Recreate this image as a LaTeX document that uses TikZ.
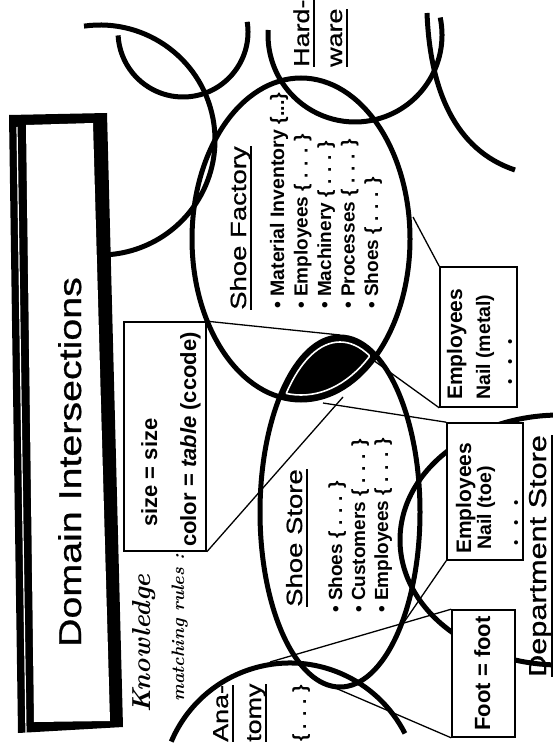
\documentclass[tikz,border=0pt]{standalone}
\usepackage{fontspec}
\newfontfamily\sansfont{Liberation Sans}
\newfontfamily\widesans[FakeStretch=1.25, FakeBold=0.8]{Liberation Sans}
\newlength{\ulwd}
\newcommand{\ulined}[1]{\settowidth{\ulwd}{#1}\rlap{\rule[-0.27em]{\ulwd}{0.075em}}#1}

\tikzset{
  ring/.style={line width=5pt},
  link/.style={line width=1.3pt},
  infobox/.style={draw, line width=1.6pt, fill=white, inner sep=0pt},
  vtext/.style={rotate=90, inner sep=0pt, anchor=base west},
  boldtext/.style={font=\sansfont\bfseries\fontsize{#1}{#1}\selectfont},
  widetext/.style={font=\widesans\fontsize{#1}{#1}\selectfont}
}

\begin{document}
\begin{tikzpicture}[x=1pt, y=-1pt]

  \useasboundingbox (0,0) rectangle (553,754);
  \clip (0,0) rectangle (553,754);

  % --- domains (circles, arcs) ---
  \draw[ring] (100,140) ++(-98:115) arc[start angle=-98, end angle=87, radius=115];
  \draw[ring] (183,32) ++(-9:65) arc[start angle=-9, end angle=177, radius=65];
  \draw[ring] (355,35) ++(-11.6:87) arc[start angle=-11.6, end angle=183.3, radius=87];
  \draw[ring] (427,13) .. controls (430,90) and (455,150) .. (515,170);
  \draw[ring] (290,792) ++(-157:129) arc[start angle=-157, end angle=-27, radius=129];
  \draw[ring] (560,540) ellipse [x radius=160, y radius=125];

  % --- intersection of shoe factory and shoe store ---
  \begin{scope}
    \clip (301,239) ellipse [x radius=109, y radius=161];
    \fill (340,512) ellipse [x radius=80, y radius=175];
  \end{scope}
  \begin{scope}
    \clip (301,239) ellipse [x radius=104, y radius=156];
    \draw[white, line width=1.6pt] (340,512) ellipse [x radius=75, y radius=170];
  \end{scope}
  \begin{scope}
    \clip (340,512) ellipse [x radius=75, y radius=170];
    \draw[white, line width=1.6pt] (301,239) ellipse [x radius=104, y radius=156];
  \end{scope}
  \draw[ring] (301,239) ellipse [x radius=109, y radius=161];
  \draw[ring] (340,512) ellipse [x radius=80, y radius=175];

  % --- title frame ---
  \fill (9,115) -- (107,113) -- (123,727) -- (18,733) -- cycle;
  \fill[white] (26,125) -- (93,123) -- (110,721) -- (34,722) -- cycle;
  \draw[white, line width=1.2pt] (17,127) -- (26,733);
  \node[vtext, anchor=base, widetext=31.5] (title) at (81,462) {Domain Intersections};

  % --- boxes ---
  \node[draw, line width=1.6pt, inner sep=0pt, minimum width=82, minimum height=229] (rules) at (165,436.5) {};
  \node[infobox, minimum width=77, minimum height=140] (metalbox) at (478.5,337) {};
  \node[infobox, minimum width=76, minimum height=137] (toebox) at (485,491.5) {};
  \node[infobox, minimum width=63, minimum height=127] (footbox) at (483.5,673.5) {};

  % --- connectors ---
  \coordinate (lensTop) at (340,335);
  \coordinate (lensLow) at (343,397);
  \coordinate (lensBase) at (323,403);
  \coordinate (lensTip) at (373,360);
  \coordinate (factoryEdge) at (413,217);
  \coordinate (storeEdge) at (400,628);
  \coordinate (storeFoot) at (333,687);
  \coordinate (anatomyTop) at (270,662);

  \draw[link] (rules.north east) -- (lensTop);
  \draw[link] (rules.south east) -- (lensLow);
  \draw[link] (lensBase) -- (toebox.north west);
  \draw[link] (lensTip) -- (metalbox.south west);
  \draw[link] (factoryEdge) -- (metalbox.north west);
  \draw[link] (toebox.south west) -- (storeEdge);
  \draw[link] (footbox.north west) -- (anatomyTop);
  \draw[link] (footbox.south west) -- (storeFoot);

  % --- knowledge matching rules ---
  \node[vtext, font=\bfseries\itshape\fontsize{26}{26}\selectfont] (knowledge) at (150,713) {Knowledge};
  \node[vtext, font=\bfseries\itshape\fontsize{18}{18}\selectfont] (matching) at (184,702) {matching rules :};
  \node[vtext, boldtext=22] (rule1) at (157,527) {size = size};
  \node[vtext, boldtext=22] (rule2) at (196,547) {color = \textit{table} (ccode)};

  % --- shoe factory ---
  \node[vtext, widetext=22] (factory) at (246,310) {\ulined{Shoe Factory}};
  \node[vtext, boldtext=19.5] (fact1) at (284,309) {\textbullet\ Material Inventory \{...\}};
  \node[vtext, boldtext=19] (fact2) at (307.5,309) {\textbullet\ Employees \{ . . . \}};
  \node[vtext, boldtext=19] (fact3) at (331,309) {\textbullet\ Machinery \{ . . . \}};
  \node[vtext, boldtext=19] (fact4) at (354.5,309) {\textbullet\ Processes \{ . . . \}};
  \node[vtext, boldtext=19] (fact5) at (378,309) {\textbullet\ Shoes \{ . . . \}};

  % --- shoe store ---
  \node[vtext, widetext=22] (store) at (302,607) {\ulined{Shoe Store}};
  \node[vtext, boldtext=19] (store1) at (342,613) {\textbullet\ Shoes \{ . . . \}};
  \node[vtext, boldtext=19] (store2) at (365,613) {\textbullet\ Customers \{ . . . \}};
  \node[vtext, boldtext=19] (store3) at (388,613) {\textbullet\ Employees \{ . . . \}};

  % --- other domains ---
  \node[vtext, widetext=21.5] (hard) at (309,67) {\ulined{Hard-}};
  \node[vtext, widetext=21.5] (ware) at (342,67) {\ulined{ware}};
  \node[vtext, widetext=21.5] (ana) at (228,742) {\ulined{Ana-}};
  \node[vtext, widetext=21.5] (tomy) at (261,742) {\ulined{tomy}};
  \node[vtext, boldtext=19] (anadots) at (306,742) {\{ . . . \}};
  \node[vtext, widetext=24.5] (dept) at (546,677) {\ulined{Department Store}};

  % --- box texts ---
  \node[vtext, boldtext=21] (metal1) at (462,400) {Employees};
  \node[vtext, boldtext=19.5] (metal2) at (490,400) {Nail (metal)};
  \node[vtext, font=\sansfont\fontsize{15}{15}\selectfont] (metaldots) at (515,385)
    {\textbullet\hspace{14.8pt}\textbullet\hspace{14.8pt}\textbullet};
  \node[vtext, boldtext=21] (toe1) at (471,554) {Employees};
  \node[vtext, boldtext=19.5] (toe2) at (491,550) {Nail (toe)};
  \node[vtext, font=\sansfont\fontsize{15}{15}\selectfont] (toedots) at (521,546)
    {\textbullet\hspace{14.8pt}\textbullet\hspace{14.8pt}\textbullet};
  \node[vtext, anchor=base, boldtext=22] (foot) at (490,673.5) {Foot = foot};

\end{tikzpicture}
\end{document}
